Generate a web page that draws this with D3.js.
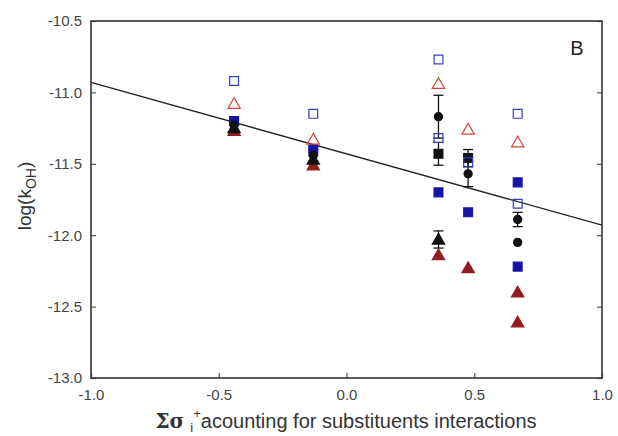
<!DOCTYPE html>
<html>
<head>
<meta charset="utf-8">
<script src="https://cdn.jsdelivr.net/npm/d3@7"></script>
<style>
body { margin: 0; background: #fff; }
svg text { font-family: "Liberation Sans", Arial, sans-serif; }
</style>
</head>
<body>
<svg id="chart" width="618" height="436"></svg>
<script>
// tick values
var xTicks = [-1.0, -0.5, 0.0, 0.5, 1.0];
var yTicks = [-10.5, -11.0, -11.5, -12.0, -12.5, -13.0];

// fitted line (ends)
var fitX = [-1.0, 1.0];
var fitY = [-10.93, -11.93];

// open blue squares
var openSqX = [-0.44, -0.13, 0.36, 0.36, 0.476, 0.67, 0.67];
var openSqY = [-10.92, -11.15, -10.77, -11.32, -11.49, -11.15, -11.78];

// open red triangles
var openTriX = [-0.44, -0.13, 0.36, 0.476, 0.67];
var openTriY = [-11.08, -11.33, -10.94, -11.26, -11.35];

// filled blue squares
var blueSqX = [-0.44, -0.13, 0.36, 0.476, 0.67, 0.67];
var blueSqY = [-11.20, -11.40, -11.70, -11.84, -11.63, -12.22];

// filled red triangles
var redTriX = [-0.44, -0.13, 0.36, 0.476, 0.67, 0.67];
var redTriY = [-11.27, -11.51, -12.14, -12.23, -12.40, -12.61];

// black circles with error
var circX = [-0.44, -0.13, 0.36, 0.476, 0.67, 0.67];
var circY = [-11.23, -11.44, -11.17, -11.57, -11.89, -12.05];
var circE = [0.04, 0.04, 0.15, 0.09, 0.05, 0];

// black triangles with error
var blkTriX = [-0.44, -0.13, 0.36];
var blkTriY = [-11.25, -11.47, -12.03];
var blkTriE = [0.03, 0.03, 0.06];

// black squares with error
var blkSqX = [0.36, 0.476];
var blkSqY = [-11.43, -11.46];
var blkSqE = [0.08, 0.06];

var mLeft = 91, mRight = 602, mTop = 21, mBottom = 378;
var svg = d3.select('#chart');

var x = d3.scaleLinear().domain([-1, 1]).range([mLeft, mRight]);
var y = d3.scaleLinear().domain([-10.5, -13]).range([mTop, mBottom]);

function zip(xs, ys, es){
	return xs.map(function(d, i){ return {x: d, y: ys[i], e: es ? es[i] : 0}; });
}
function fmt(d){ return d.toFixed(1); }

var plot = svg.append('g');

// fit line
plot.append('line')
	.attr('x1', x(fitX[0])).attr('y1', y(fitY[0]))
	.attr('x2', x(fitX[1])).attr('y2', y(fitY[1]))
	.attr('stroke', '#222').attr('stroke-width', 1.3);

var sym = {
	square: d3.symbol().type(d3.symbolSquare).size(78),
	triangle: d3.symbol().type(d3.symbolTriangle).size(66),
	circle: d3.symbol().type(d3.symbolCircle).size(52)
};

function drawErr(data){
	var g = plot.append('g').attr('stroke', '#111').attr('stroke-width', 1.3);
	data.filter(function(d){ return d.e > 0; }).forEach(function(d){
		var cx = x(d.x);
		g.append('line').attr('x1', cx).attr('x2', cx).attr('y1', y(d.y + d.e)).attr('y2', y(d.y - d.e));
		g.append('line').attr('x1', cx - 5).attr('x2', cx + 5).attr('y1', y(d.y + d.e)).attr('y2', y(d.y + d.e));
		g.append('line').attr('x1', cx - 5).attr('x2', cx + 5).attr('y1', y(d.y - d.e)).attr('y2', y(d.y - d.e));
	});
}

function drawPts(data, shape, fill, stroke){
	plot.append('g').selectAll('path').data(data).enter().append('path')
		.attr('d', sym[shape])
		.attr('transform', function(d){ return 'translate(' + x(d.x) + ',' + (y(d.y) + (shape == 'triangle' ? 1 : 0)) + ')'; })
		.attr('fill', fill)
		.attr('stroke', stroke)
		.attr('stroke-width', 1.2);
}

drawErr(zip(circX, circY, circE));
drawErr(zip(blkTriX, blkTriY, blkTriE));
drawErr(zip(blkSqX, blkSqY, blkSqE));

drawPts(zip(redTriX, redTriY), 'triangle', '#8e1c1c', '#8e1c1c');
drawPts(zip(blueSqX, blueSqY), 'square', '#1414a6', '#1414a6');
drawPts(zip(blkTriX, blkTriY), 'triangle', '#111', '#111');
drawPts(zip(blkSqX, blkSqY), 'square', '#111', '#111');
drawPts(zip(circX, circY), 'circle', '#111', '#111');
drawPts(zip(openTriX, openTriY), 'triangle', 'none', '#d4453a');
drawPts(zip(openSqX, openSqY), 'square', 'none', '#3040c0');

// axes (ticks inward)
var xAxis = d3.axisBottom(x).tickValues(xTicks).tickSize(-5).tickPadding(11).tickFormat(fmt);
var yAxis = d3.axisLeft(y).tickValues(yTicks).tickSize(-5).tickPadding(9).tickFormat(fmt);
var yAxisR = d3.axisRight(y).tickValues(yTicks).tickSize(-5).tickFormat('');

var gx = svg.append('g').attr('transform', 'translate(0,' + mBottom + ')').call(xAxis);
var gy = svg.append('g').attr('transform', 'translate(' + mLeft + ',0)').call(yAxis);
var gr = svg.append('g').attr('transform', 'translate(' + mRight + ',0)').call(yAxisR);
[gx, gy, gr].forEach(function(g){
	g.selectAll('.domain').remove();
	g.selectAll('line').attr('stroke', '#555').attr('stroke-width', 1.2);
	g.selectAll('text').attr('fill', '#444').style('font-size', '15px');
});

svg.append('rect')
	.attr('x', mLeft).attr('y', mTop)
	.attr('width', mRight - mLeft).attr('height', mBottom - mTop)
	.attr('fill', 'none').attr('stroke', '#333').attr('stroke-width', 1.6);

// panel letter
svg.append('text').attr('x', 577).attr('y', 55).attr('text-anchor', 'middle')
	.style('font-size', '20px').attr('fill', '#222').text('B');

// y title
var yt = svg.append('text')
	.attr('transform', 'translate(31,' + 196 + ') rotate(-90)')
	.attr('text-anchor', 'middle').attr('fill', '#333').style('font-size', '19px');
yt.append('tspan').text('log(k');
yt.append('tspan').attr('dy', 5).style('font-size', '14px').text('OH');
yt.append('tspan').attr('dy', -5).text(')');

// x title
var xt = svg.append('text').attr('x', 346).attr('y', 428).attr('text-anchor', 'middle')
	.attr('fill', '#333').style('font-size', '20px');
xt.append('tspan').style('font-family', '"DejaVu Serif", serif').style('font-weight', 'bold').text('Σσ');
xt.append('tspan').attr('dx', 6).attr('dy', 4).style('font-size', '13px').text('i');
xt.append('tspan').attr('dy', -14).style('font-size', '13px').text('+');
xt.append('tspan').attr('dy', 10).text('acounting for substituents interactions');
</script>
</body>
</html>
